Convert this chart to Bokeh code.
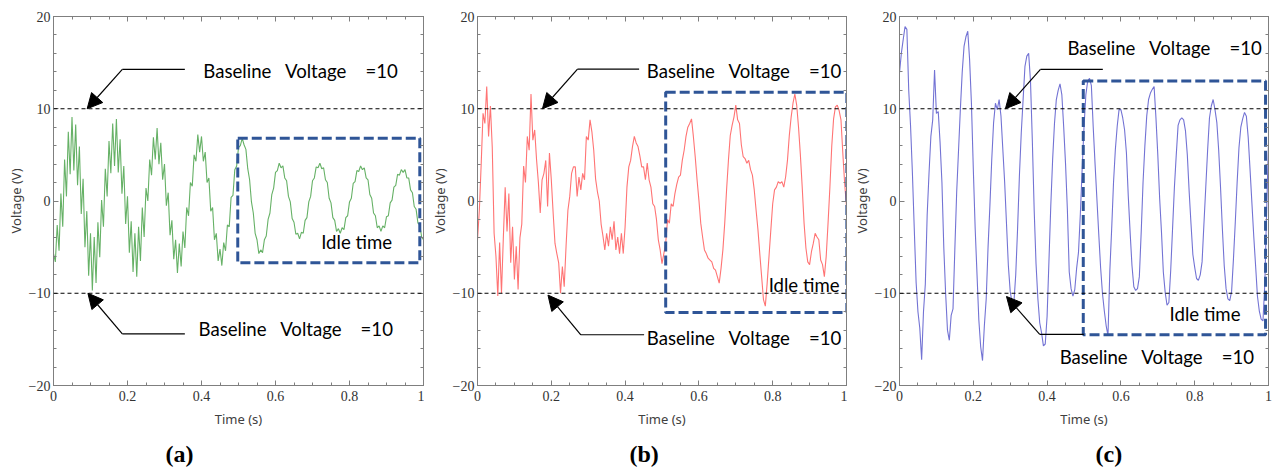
from bokeh.plotting import figure
from bokeh.layouts import row
from bokeh.models import FixedTicker, LinearAxis, Label, Arrow, NormalHead, Span, Range1d, Title
from bokeh.embed import file_html
from bokeh.resources import INLINE

# ---------------- data ----------------
SAMPLE_STEP = 0.005  # seconds between samples

volt_a = [
    -5.7, -6.6, -2.6, -5.4, 0.8, -2.8, 4.5, 0.5, 7.5, 2.9,
    9.1, 3.3, 8.3, 1.7, 5.9, -1.4, 2.4, -5.0, -1.1, -8.1,
    -3.5, -9.7, -3.9, -8.9, -2.3, -6.1, 0.1, -2.8, 3.5, 0.5,
    6.5, 3.0, 8.4, 3.8, 8.9, 3.1, 6.7, 0.8, 3.8, -2.5,
    0.5, -5.6, -2.2, -7.7, -3.5, -8.2, -2.8, -6.5, -0.7, -3.9,
    1.4, 0.0, 4.5, 2.8, 6.9, 4.5, 7.9, 4.0, 6.3, 2.3,
    4.0, -0.5, 0.9, -3.7, -2.1, -6.3, -4.2, -7.8, -4.6, -7.1,
    -3.3, -5.1, -0.7, -1.6, 2.0, 1.6, 5.0, 4.3, 7.2, 5.3,
    7.0, 4.3, 5.3, 2.0, 2.5, -1.1, -0.7, -4.2, -3.5, -6.5,
    -5.2, -7.0, -4.5, -5.4, -2.6, -2.8, 0.4, 0.6, 3.4, 3.8,
    5.8, 6.0, 6.8, 6.1, 5.6, 3.5, 2.3, -0.1, -1.3, -3.5,
    -4.2, -5.7, -5.3, -5.6, -4.2, -3.8, -2.0, -1.3, 0.7, 1.4,
    3.1, 3.3, 4.1, 3.6, 3.8, 2.5, 2.2, 0.5, -0.1, -1.9,
    -2.3, -3.6, -3.5, -4.1, -3.4, -3.5, -2.1, -1.8, -0.1, 0.5,
    2.2, 2.5, 3.7, 3.6, 4.1, 3.5, 3.6, 2.3, 2.0, 0.3,
    -0.2, -1.8, -2.1, -3.3, -3.0, -3.5, -2.9, -3.1, -1.8, -1.6,
    -0.1, 0.3, 1.9, 2.1, 3.3, 3.2, 3.8, 3.4, 3.6, 2.5,
    2.3, 0.7, 0.3, -1.3, -1.6, -2.9, -2.7, -3.3, -2.7, -2.9,
    -1.7, -1.6, -0.2, 0.1, 1.5, 1.7, 2.9, 2.8, 3.4, 3.1,
    3.4, 2.5, 2.5, 1.2, 0.9, -0.6, -0.9, -2.4, -2.6, -3.9, -4.2,
]

volt_b = [
    -4.2, -1.0, 4.0, 9.5, 8.4, 12.4, 7.0, 10.3, 5.8, -3.5,
    -6.0, -10.3, -4.5, -10.0, -4.0, 1.5, -3.3, 0.8, -6.7, -2.8,
    -8.5, -4.9, -9.6, -4.0, -2.5, 3.8, 2.0, 7.0, 5.5, 11.6,
    6.6, 7.7, 4.5, 2.0, -1.3, 2.3, 3.0, 4.4, -0.6, 5.2,
    2.3, -1.3, -4.6, -5.7, -6.7, -10.0, -7.1, -9.3, -4.9, -1.0,
    0.5, 3.0, 3.7, 3.7, 0.5, 2.6, 1.2, 3.0, 2.3, 7.0,
    6.6, 8.8, 7.5, 5.5, 2.4, 1.0, 0.0, -2.5, -3.8, -5.3,
    -3.5, -4.9, -2.8, -4.2, -2.2, -5.3, -3.9, -5.7, -3.5, -5.7,
    -2.8, 1.5, 3.7, 4.4, 5.9, 7.0, 6.3, 5.9, 4.9, 3.7,
    3.7, 2.3, 4.1, 2.3, 1.5, -0.3, -0.6, -2.0, -4.2, -5.3,
    -6.8, -5.7, -4.6, -2.0, -2.4, -0.3, -0.6, 0.8, 1.8, 2.6,
    2.8, 4.4, 5.5, 7.0, 8.0, 8.4, 8.9, 7.0, 4.8, 2.3,
    0.1, -2.4, -3.9, -5.3, -5.7, -6.2, -6.4, -6.6, -7.3, -7.5,
    -8.2, -8.9, -7.3, -5.3, -2.4, 1.2, 4.4, 7.1, 8.2, 9.1,
    10.4, 8.8, 8.4, 6.1, 4.8, 4.6, 4.1, 4.4, 3.4, 2.8,
    1.2, -1.0, -3.1, -5.7, -8.2, -10.7, -11.4, -8.9, -6.0, -3.1,
    -0.3, 1.2, 1.5, 2.1, 1.9, 2.1, 1.5, 2.6, 4.4, 7.1,
    9.1, 10.6, 11.6, 10.4, 8.0, 5.0, 1.5, -2.4, -5.1, -6.6,
    -6.9, -5.5, -4.6, -3.5, -3.9, -4.2, -6.4, -6.9, -8.2, -6.0,
    -2.4, 1.5, 5.9, 8.9, 10.2, 10.4, 9.8, 8.8, 5.2, 1.9, -0.6,
]

volt_c = [
    13.9, 16.0, 17.5, 18.9, 18.6, 12.0, 8.1, 3.0, -3.0, -8.8,
    -12.0, -13.8, -17.2, -12.0, -9.0, -1.5, 3.0, 7.0, 8.8, 14.2,
    9.5, 9.7, 6.3, 2.0, -5.0, -10.0, -14.0, -15.1, -12.4, -11.7,
    -5.2, 1.0, 5.5, 10.0, 14.0, 16.8, 17.8, 18.4, 15.3, 10.5,
    3.5, -2.9, -7.9, -12.9, -15.8, -17.3, -13.5, -10.6, -5.0, -0.5,
    4.5, 8.5, 10.6, 9.9, 11.0, 9.2, 5.6, 2.0, -2.5, -7.0,
    -9.8, -11.0, -11.0, -8.0, -3.0, 2.8, 7.4, 11.0, 14.6, 15.7,
    16.0, 13.0, 6.5, -1.0, -6.8, -10.6, -13.2, -14.3, -15.7, -15.5,
    -12.5, -6.5, -0.5, 4.5, 8.4, 11.0, 12.0, 12.7, 11.5, 8.0,
    4.0, -1.0, -7.7, -9.5, -10.3, -9.6, -7.3, -5.6, -1.5, 3.5,
    8.0, 11.5, 13.0, 13.3, 12.5, 8.0, 4.0, 0.2, -3.6, -7.2,
    -10.0, -11.9, -13.5, -14.6, -7.6, -3.0, 2.0, 5.6, 8.1, 9.9,
    9.9, 9.0, 7.7, 5.2, 0.5, -3.4, -7.0, -9.3, -9.7, -9.5,
    -8.2, -3.4, 2.0, 6.0, 9.2, 11.0, 11.7, 12.1, 12.4, 9.0,
    5.0, 0.3, -3.4, -7.7, -9.9, -11.3, -11.0, -7.5, -3.0, 1.5,
    5.0, 8.2, 8.8, 9.0, 8.8, 7.6, 5.0, 1.0, -2.5, -5.8,
    -7.2, -8.4, -8.6, -8.0, -6.6, -2.5, 1.5, 5.5, 9.0, 10.3,
    11.0, 9.9, 8.5, 5.5, 1.5, -3.0, -7.0, -9.5, -10.6, -10.8,
    -9.8, -6.3, -2.3, 2.0, 5.8, 8.0, 8.9, 9.6, 9.2, 6.9,
    3.4, -0.2, -3.8, -7.0, -10.3, -11.9, -12.8, -13.0, -9.0, -1.0, 6.3,
]

baseline_levels = [10, -10]

x_ticks = [0, 0.2, 0.4, 0.6, 0.8, 1]
x_minor = [0.05 * k for k in range(21)]
y_ticks = [-20, -10, 0, 10, 20]
y_minor = [-20 + 2 * k for k in range(21)]
x_tick_labels = {0: "0", 0.2: "0.2", 0.4: "0.4", 0.6: "0.6", 0.8: "0.8", 1: "1"}
y_tick_labels = {-20: "\u221220", -10: "\u221210", 0: "0", 10: "10", 20: "20"}

NB = "\u00a0"
baseline_text = "Baseline" + NB * 3 + "Voltage" + NB * 4 + "=10"

# ---------------- annotation placement (per panel) ----------------
panels = [
    dict(values=volt_a, color="#66b166", tag="(a)", tag_offset=112,
         width=424, left=53, right=1,
         top_text=(0.405, 14.1), bot_text=(0.392, -13.9), idle_text=(0.7235, -4.4),
         top_lead=(0.355, 0.186, 14.27, 0.091, 10.0),
         bot_lead=(0.355, 0.186, -14.4, 0.093, -10.0),
         box=(0.498, 0.99, -6.7, 6.8)),
    dict(values=volt_b, color="#ff7474", tag="(b)", tag_offset=152,
         width=423, left=53, right=1,
         top_text=(0.459, 14.05), bot_text=(0.459, -14.85), idle_text=(0.789, -9.1),
         top_lead=(0.438, 0.271, 14.3, 0.176, 10.0),
         bot_lead=(0.4515, 0.28, -14.5, 0.191, -10.2),
         box=(0.51, 1.001, -12.1, 11.8)),
    dict(values=volt_c, color="#7373d4", tag="(c)", tag_offset=196,
         width=426, left=52, right=5,
         top_text=(0.455, 16.6), bot_text=(0.434, -16.9), idle_text=(0.732, -12.3),
         top_lead=(0.551, 0.382, 14.27, 0.287, 10.0),
         bot_lead=(0.4995, 0.380, -14.45, 0.29, -10.35),
         box=(0.498, 0.992, -14.5, 13.0)),
]

FRAME_COLOR = "#7f7f7f"
TEXT_FONT = "Lato"
TEXT_SIZE = "18.6px"


def style_ticks(ax, major_len=5, minor_len=3):
    ax.axis_line_color = FRAME_COLOR
    ax.major_tick_line_color = FRAME_COLOR
    ax.minor_tick_line_color = FRAME_COLOR
    ax.major_tick_in = major_len
    ax.major_tick_out = 0
    ax.minor_tick_in = minor_len
    ax.minor_tick_out = 0


def style_main_axis(ax, ticks, minor, overrides):
    ax.ticker = FixedTicker(ticks=ticks, minor_ticks=minor)
    style_ticks(ax)
    ax.major_label_text_font = "Liberation Serif"
    ax.major_label_text_font_size = "14px"
    ax.major_label_text_color = "#333333"
    ax.major_label_overrides = overrides
    ax.axis_label_text_font = "Noto Sans"
    ax.axis_label_text_font_size = "13px"
    ax.axis_label_text_font_style = "normal"
    ax.axis_label_text_color = "#404040"


def mirror_axes(p, ticks, minor, side):
    # label-free axes: all ticks drawn as "minor" ticks so no tick labels exist
    for tick_list, length in ((minor, 3), (ticks, 5)):
        ax = LinearAxis(ticker=FixedTicker(ticks=[], minor_ticks=tick_list))
        style_ticks(ax, major_len=0, minor_len=length)
        ax.major_label_standoff = 0
        ax.axis_label_standoff = 0
        p.add_layout(ax, side)


figs = []
for pnl in panels:
    vals = pnl["values"]
    t = [i * SAMPLE_STEP for i in range(len(vals))]
    p = figure(width=pnl["width"], height=475,
               x_range=Range1d(0, 1), y_range=Range1d(-20, 20),
               output_backend="svg", toolbar_location=None,
               min_border_left=pnl["left"], min_border_right=pnl["right"],
               min_border_top=16, min_border_bottom=89,
               x_axis_label="Time (s)", y_axis_label="Voltage (V)")
    p.grid.visible = False
    p.outline_line_color = FRAME_COLOR
    p.background_fill_color = "white"
    p.border_fill_color = "white"

    style_main_axis(p.xaxis[0], x_ticks, x_minor, x_tick_labels)
    p.xaxis[0].major_label_standoff = 5
    p.xaxis[0].axis_label_standoff = 6
    style_main_axis(p.yaxis[0], y_ticks, y_minor, y_tick_labels)
    p.yaxis[0].major_label_standoff = 3
    p.yaxis[0].axis_label_standoff = 1

    mirror_axes(p, x_ticks, x_minor, "above")
    mirror_axes(p, y_ticks, y_minor, "right")

    # panel tag below the x axis label
    p.add_layout(Title(text=pnl["tag"], align="left", offset=pnl["tag_offset"],
                       text_font="Liberation Serif", text_font_size="24px",
                       text_font_style="bold", text_color="black", standoff=17), "below")

    # signal
    p.line(t, vals, line_color=pnl["color"], line_width=1.1)

    # baselines
    for lvl in baseline_levels:
        p.add_layout(Span(location=lvl, dimension="width", line_color="black",
                          line_dash="4 3", line_width=1))

    # idle-time box
    x0, x1, y0, y1 = pnl["box"]
    p.quad(left=[x0], right=[x1], bottom=[y0], top=[y1], fill_alpha=0,
           line_color="#2f5597", line_width=3, line_dash="10 4")

    # leaders with arrows
    for lead in (pnl["top_lead"], pnl["bot_lead"]):
        xs, xe, yl, xt_, yt_ = lead
        p.line([xs, xe], [yl, yl], line_color="black", line_width=1.2)
        p.add_layout(Arrow(end=NormalHead(size=15, fill_color="black", line_color="black"),
                           x_start=xe, y_start=yl, x_end=xt_, y_end=yt_,
                           line_color="black", line_width=1.2))

    for key in ("top_text", "bot_text"):
        lx, ly = pnl[key]
        p.add_layout(Label(x=lx, y=ly, text=baseline_text, text_font=TEXT_FONT,
                           text_font_size=TEXT_SIZE, text_color="black",
                           text_baseline="middle", text_align="left"))
    ix, iy = pnl["idle_text"]
    p.add_layout(Label(x=ix, y=iy, text="Idle time", text_font=TEXT_FONT,
                       text_font_size=TEXT_SIZE, text_color="black",
                       text_baseline="middle", text_align="left"))
    figs.append(p)

layout = row(*figs)
open("out.html", "w").write(file_html(layout, INLINE))
